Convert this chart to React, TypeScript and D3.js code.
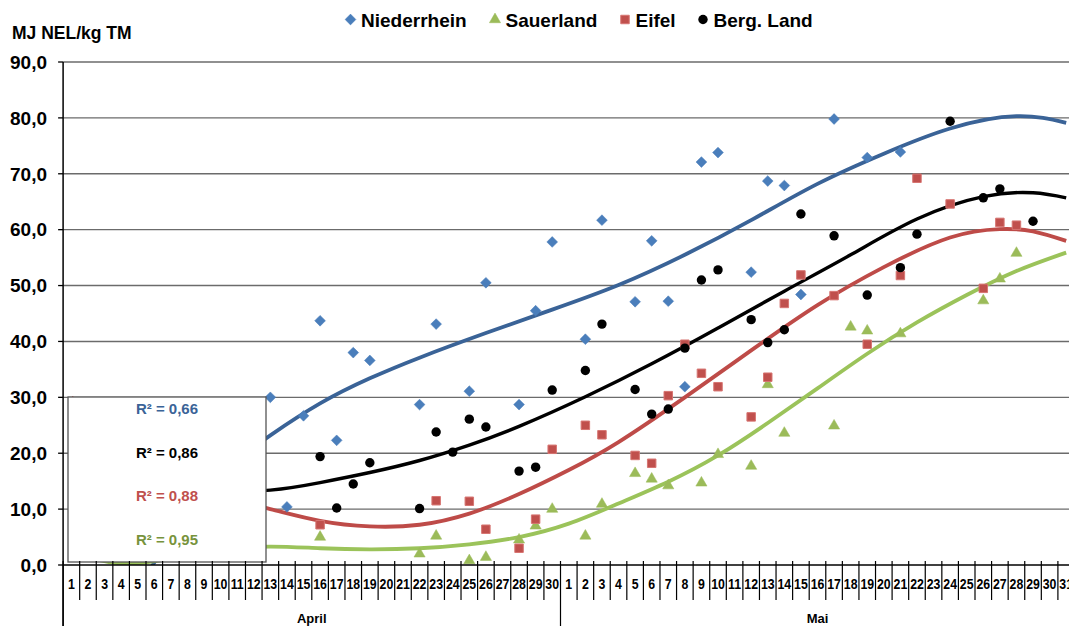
import React from "react";
import * as d3 from "d3";

const W = 1069;
const H = 626;
const FONT = "'Liberation Sans', Arial, sans-serif";

// Category axis: April 1..30 and Mai 1..31 (day index 1..61)
const aprilLabels = d3.range(1, 31).map(String);
const maiLabels = d3.range(1, 32).map(String);
const monthNames = ["April", "Mai"];
const yTicks = [0, 10, 20, 30, 40, 50, 60, 70, 80, 90];

// Niederrhein
const nieDays = [13, 14, 15, 16, 17, 18, 19, 22, 23, 25, 26, 28, 29, 30, 32, 33, 35, 36, 37, 38, 39, 40, 42, 43, 44, 45, 47, 49, 51];
const nieVals = [30.0, 10.4, 26.7, 43.7, 22.3, 38.0, 36.6, 28.7, 43.1, 31.1, 50.5, 28.7, 45.5, 57.8, 40.4, 61.7, 47.1, 58.0, 47.2, 31.9, 72.1, 73.8, 52.4, 68.7, 67.9, 48.4, 79.8, 72.9, 73.9];

// Sauerland
const sauDays = [16, 22, 23, 25, 26, 28, 29, 30, 32, 33, 35, 36, 37, 39, 40, 42, 43, 44, 47, 48, 49, 51, 56, 57, 58];
const sauVals = [5.0, 2.0, 5.2, 0.8, 1.4, 4.5, 7.0, 10.0, 5.2, 10.9, 16.4, 15.4, 14.2, 14.7, 19.8, 17.7, 32.3, 23.6, 24.9, 42.6, 41.9, 41.4, 47.3, 51.2, 55.8];

// Eifel
const eifDays = [16, 23, 25, 26, 28, 29, 30, 32, 33, 35, 36, 37, 38, 39, 40, 42, 43, 44, 45, 47, 49, 51, 52, 54, 56, 57, 58];
const eifVals = [7.2, 11.5, 11.4, 6.4, 3.0, 8.2, 20.7, 25.0, 23.3, 19.6, 18.2, 30.3, 39.5, 34.3, 31.9, 26.5, 33.6, 46.8, 51.9, 48.2, 39.5, 51.8, 69.2, 64.6, 49.5, 61.3, 60.8];

// Berg. Land
const berDays = [16, 17, 18, 19, 22, 23, 24, 25, 26, 28, 29, 30, 32, 33, 35, 36, 37, 38, 39, 40, 42, 43, 44, 45, 47, 49, 51, 52, 54, 56, 57, 59];
const berVals = [19.4, 10.2, 14.5, 18.3, 10.1, 23.8, 20.2, 26.1, 24.7, 16.8, 17.5, 31.3, 34.8, 43.1, 31.4, 27.0, 27.9, 38.8, 51.0, 52.8, 43.9, 39.8, 42.1, 62.8, 58.9, 48.3, 53.2, 59.2, 79.4, 65.7, 67.3, 61.5];

// Polynomial trendlines, sampled along the day axis
const nieTrendDays = [1, 4, 5.9, 8, 10, 11.5, 13, 16, 19, 22, 26, 30, 34, 38, 42, 46, 50, 54, 58, 61];
const nieTrendVals = [-27, -9, 0, 9.0, 15.8, 19.9, 23.2, 28.9, 33.4, 37.1, 41.5, 45.7, 50.1, 55.5, 61.7, 68.2, 73.6, 78.1, 80.3, 79.1];

const sauTrendDays = [1, 2.5, 4.6, 7, 10, 13, 16, 19, 22, 25, 28, 31, 34, 37, 40, 43, 46, 49, 52, 55, 58, 61];
const sauTrendVals = [2.6, 1.0, 0.25, 1.2, 2.7, 3.3, 3.0, 2.8, 3.0, 3.7, 5.0, 7.4, 11.0, 14.9, 19.6, 25.4, 31.6, 37.8, 43.4, 48.3, 52.6, 55.9];

const eifTrendDays = [1, 4, 7, 10, 13, 16, 19, 22, 25, 28, 31, 34, 38, 42, 46, 50, 54, 57, 59, 61];
const eifTrendVals = [30.0, 22.5, 16.5, 12.4, 10.0, 7.9, 6.9, 7.2, 9.2, 12.7, 17.0, 22.0, 30.0, 38.4, 46.5, 53.3, 58.6, 60.1, 59.7, 58.0];

const berTrendDays = [1, 5, 9, 13, 16, 19, 22, 25, 28, 32, 36, 40, 44, 48, 52, 56, 59, 61];
const berTrendVals = [12.2, 12.4, 12.8, 13.4, 14.75, 16.55, 18.7, 21.45, 24.8, 30.1, 36.0, 42.4, 49.0, 55.5, 61.9, 65.9, 66.6, 65.7];

const r2Labels = ["R² = 0,66", "R² = 0,86", "R² = 0,88", "R² = 0,95"];

type Marker = "diamond" | "triangle" | "square" | "circle";
interface Series {
  name: string;
  days: number[];
  vals: number[];
  trendDays: number[];
  trendVals: number[];
  fill: string;
  stroke: string;
  line: string;
  lineWidth: number;
  marker: Marker;
}

const series: Series[] = [
  { name: "Niederrhein", days: nieDays, vals: nieVals, trendDays: nieTrendDays, trendVals: nieTrendVals, fill: "#4A7EBB", stroke: "#4A7EBB", line: "#3A6397", lineWidth: 3.8, marker: "diamond" },
  { name: "Sauerland", days: sauDays, vals: sauVals, trendDays: sauTrendDays, trendVals: sauTrendVals, fill: "#9BBB59", stroke: "#9BBB59", line: "#9BC35A", lineWidth: 3.8, marker: "triangle" },
  { name: "Eifel", days: eifDays, vals: eifVals, trendDays: eifTrendDays, trendVals: eifTrendVals, fill: "#C0504D", stroke: "#D77572", line: "#BE4B48", lineWidth: 3.8, marker: "square" },
  { name: "Berg. Land", days: berDays, vals: berVals, trendDays: berTrendDays, trendVals: berTrendVals, fill: "#000000", stroke: "#000000", line: "#000000", lineWidth: 3.4, marker: "circle" },
];

const r2Colors = ["#3A6397", "#000000", "#C0504D", "#77933C"];

// Layout
const plotLeft = 63.1;
const dayStep = 16.58;
const nDays = 61;
const plotRight = plotLeft + nDays * dayStep;
const plotTop = 62;
const plotBottom = 565;

const x = d3.scaleLinear().domain([0.5, nDays + 0.5]).range([plotLeft, plotRight]);
const y = d3.scaleLinear().domain([0, 90]).range([plotBottom, plotTop]);
const fmt = (v: number) => d3.format(".1f")(v).replace(".", ",");

const diamondPath = d3.symbol(d3.symbolSquare, 58)() as string;
const trianglePath = d3.symbol(d3.symbolTriangle, 54)() as string;
const squarePath = d3.symbol(d3.symbolSquare, 72)() as string;

function MarkerShape({ kind, cx, cy, fill, stroke }: { kind: Marker; cx: number; cy: number; fill: string; stroke: string }) {
  if (kind === "circle") return <circle cx={cx} cy={cy} r={4.7} fill={fill} />;
  if (kind === "diamond")
    return <path d={diamondPath} transform={`translate(${cx},${cy}) rotate(45)`} fill={fill} stroke={stroke} strokeWidth={0.5} />;
  if (kind === "triangle")
    return <path d={trianglePath} transform={`translate(${cx},${cy})`} fill={fill} stroke={stroke} strokeWidth={0.5} />;
  return <path d={squarePath} transform={`translate(${cx},${cy})`} fill={fill} stroke={stroke} strokeWidth={1} />;
}

const legendX = [350.5, 495, 625, 703];

export default function App() {
  const line = d3
    .line<[number, number]>()
    .x((d) => x(d[0]))
    .y((d) => y(d[1]))
    .curve(d3.curveNatural);

  const allDayLabels = [...aprilLabels, ...maiLabels];
  const boundaries = d3.range(0, nDays + 1);

  return (
    <svg width={W} height={H} style={{ position: "absolute", left: 0, top: 0, background: "#fff" }} fontFamily={FONT}>
      <defs>
        <clipPath id="plotClip">
          <rect x={plotLeft} y={plotTop - 2} width={plotRight - plotLeft} height={plotBottom - plotTop + 2} />
        </clipPath>
      </defs>
      <rect x={0} y={0} width={W} height={H} fill="#fff" />

      {/* Title of value axis */}
      <text x={12} y={39} fontSize={17.5} fontWeight="bold" fill="#000">MJ NEL/kg TM</text>

      {/* Legend */}
      {series.map((s, i) => (
        <g key={s.name}>
          <MarkerShape kind={s.marker} cx={legendX[i]} cy={19.5} fill={s.fill} stroke={s.stroke} />
          <text x={legendX[i] + 10.5} y={27} fontSize={19} fontWeight="bold" fill="#000">{s.name}</text>
        </g>
      ))}

      {/* Horizontal gridlines */}
      {yTicks.filter((t) => t > 0).map((t) => (
        <line key={t} x1={plotLeft} x2={W} y1={y(t)} y2={y(t)} stroke="#6b6b6b" strokeWidth={1.4} />
      ))}

      {/* Trendlines */}
      <g clipPath="url(#plotClip)">
        {series.map((s) => (
          <path
            key={s.name}
            d={line(s.trendDays.map((d, i) => [d, s.trendVals[i]] as [number, number])) as string}
            fill="none"
            stroke={s.line}
            strokeWidth={s.lineWidth}
          />
        ))}
      </g>

      {/* Data points */}
      {series.map((s) => (
        <g key={s.name}>
          {s.days.map((d, i) => (
            <MarkerShape key={d} kind={s.marker} cx={x(d)} cy={y(s.vals[i])} fill={s.fill} stroke={s.stroke} />
          ))}
        </g>
      ))}

      {/* R² box */}
      <rect x={68} y={397} width={198} height={165} fill="#fff" stroke="#555" strokeWidth={1.3} />
      {r2Labels.map((t, i) => (
        <text key={t} x={167} y={414 + i * 43.5} fontSize={15} fontWeight="bold" fill={r2Colors[i]} textAnchor="middle">
          {t}
        </text>
      ))}

      {/* Value axis */}
      <line x1={plotLeft} x2={plotLeft} y1={plotTop} y2={H} stroke="#000" strokeWidth={1.5} />
      {yTicks.map((t) => (
        <g key={t}>
          <line x1={plotLeft - 5} x2={plotLeft} y1={y(t)} y2={y(t)} stroke="#000" strokeWidth={1.3} />
          <text x={47} y={y(t) + 6.8} fontSize={19} fontWeight="bold" textAnchor="end" fill="#000">
            {fmt(t)}
          </text>
        </g>
      ))}

      {/* Category axis */}
      <line x1={plotLeft} x2={W} y1={plotBottom} y2={plotBottom} stroke="#000" strokeWidth={1.5} />
      {boundaries.map((b) => {
        const bx = plotLeft + b * dayStep;
        const monthEdge = b === 0 || b === 30 || b === nDays;
        return (
          <line key={b} x1={bx} x2={bx} y1={plotBottom - 4} y2={monthEdge ? H : 600} stroke="#000" strokeWidth={1.2} />
        );
      })}
      {allDayLabels.map((lbl, i) => (
        <text
          key={i}
          transform={`translate(${x(i + 1)},589) scale(0.85,1)`}
          fontSize={14.5}
          fontWeight="bold"
          textAnchor="middle"
          fill="#000"
        >
          {lbl}
        </text>
      ))}
      {monthNames.map((m, i) => {
        const a = i === 0 ? 0 : 30;
        const b = i === 0 ? 30 : nDays;
        return (
          <text key={m} x={(x(a + 0.5) + x(b + 0.5)) / 2} y={623} fontSize={13} fontWeight="bold" textAnchor="middle" fill="#000">
            {m}
          </text>
        );
      })}
    </svg>
  );
}
